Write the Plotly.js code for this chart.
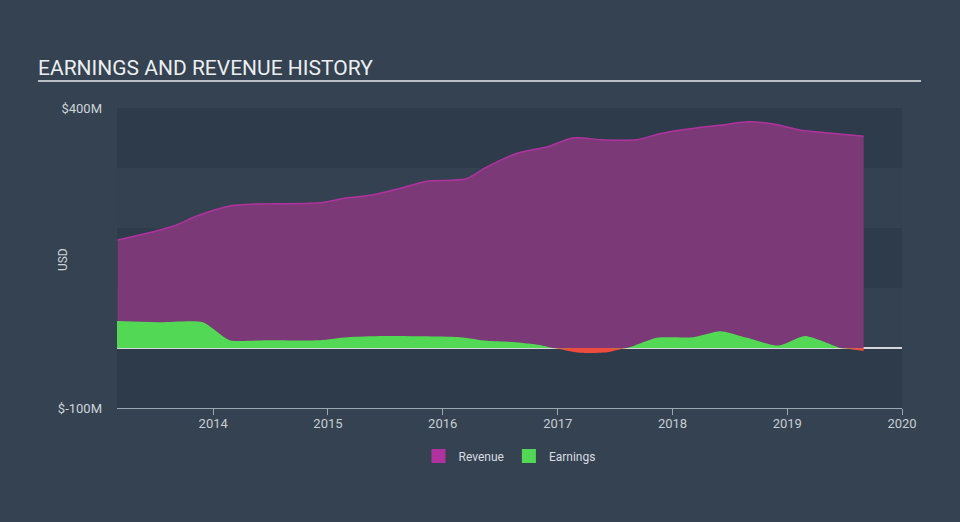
<!DOCTYPE html>
<html>
<head>
<meta charset="utf-8">
<script src="https://cdn.plot.ly/plotly-3.0.1.min.js"></script>
<style>
html,body{margin:0;padding:0;background:#344251;}
#chart{width:960px;height:522px;}
</style>
</head>
<body>
<div id="chart"></div>
<script>
// Revenue (USD millions)
const revenueDates = ["2013-03-03","2013-08-26","2013-11-10","2014-02-27","2014-05-20","2014-12-06","2015-02-27","2015-05-21","2015-08-11","2015-11-11","2016-03-15","2016-05-21","2016-08-28","2016-11-27","2017-02-19","2017-05-22","2017-09-07","2017-11-28","2018-04-02","2018-06-27","2018-08-29","2018-11-23","2019-02-14","2019-05-23","2019-09-01"];
const revenueValues = [180,203,220,237,240,242,250,255,265,278,282,302,325,335,350,347,347,358,368,373,377,373,363,358,353];

// Earnings (USD millions)
const earningsDates = ["2013-03-01","2013-07-16","2013-11-29","2014-02-23","2014-06-21","2014-12-06","2015-03-03","2015-06-25","2016-02-25","2016-05-21","2016-08-12","2016-11-05","2016-12-16","2017-03-13","2017-06-07","2017-08-09","2017-11-12","2018-03-08","2018-06-02","2018-08-26","2018-12-05","2019-02-26","2019-06-08","2019-06-18","2019-09-01"];
const earningsValues = [45,43,43,13,13,13,18,20,18,12,10,5,0,-8,-7,0,17,18,28,17,4,20,2,0,-5];

// Axis ticks
const yTickVals = [400,-100];
const yTickText = ["$400M","$-100M"];
const xTickVals = ["2014-01-01","2015-01-01","2016-01-01","2017-01-01","2018-01-01","2019-01-01","2020-01-01"];
const xTickText = ["2014","2015","2016","2017","2018","2019","2020"];
const bandRanges = [[300,400],[100,200],[-100,0]];

const revenueColor = "#b1329f";
const earningsColor = "#52d854";
const lossColor = "#ef4b3f";

const earnPos = earningsValues.map(v => Math.max(v,0));
const earnNeg = earningsValues.map(v => Math.min(v,0));

const traces = [
  {
    x: revenueDates, y: revenueValues, name: "Revenue", type: "scatter", mode: "lines",
    line: {color: revenueColor, width: 1.5, shape: "spline", smoothing: 0.8},
    fill: "tozeroy", fillcolor: "#7b3a77", hoverinfo: "skip", showlegend: false
  },
  {
    x: earningsDates, y: earnNeg, name: "Loss", type: "scatter", mode: "lines",
    line: {color: lossColor, width: 0, shape: "spline", smoothing: 0.6},
    fill: "tozeroy", fillcolor: lossColor, showlegend: false, hoverinfo: "skip"
  },
  {
    x: earningsDates, y: earnPos, name: "Earnings", type: "scatter", mode: "lines",
    line: {color: earningsColor, width: 0, shape: "spline", smoothing: 0.6},
    fill: "tozeroy", fillcolor: earningsColor, hoverinfo: "skip", showlegend: false
  },
  // legend entries
  {x: [null], y: [null], name: "Revenue", type: "scatter", mode: "markers",
   marker: {symbol: "square", size: 14, color: revenueColor}},
  {x: [null], y: [null], name: "Earnings", type: "scatter", mode: "markers",
   marker: {symbol: "square", size: 14, color: earningsColor}}
];

const shapes = bandRanges.map(r => ({
  type: "rect", xref: "paper", yref: "y", x0: 0, x1: 1, y0: r[0], y1: r[1],
  fillcolor: "#2e3b4a", line: {width: 0}, layer: "below"
}));
// title underline
shapes.push({type: "line", xref: "paper", yref: "paper", x0: -0.1006, x1: 1.0242, y0: 1.09, y1: 1.09,
  line: {color: "#b9bfc5", width: 2}});

const layout = {
  width: 960, height: 522,
  paper_bgcolor: "#344251", plot_bgcolor: "#334150",
  margin: {l: 117, r: 58, t: 108, b: 114},
  font: {family: "Roboto, sans-serif", color: "#d0d4d8"},
  title: {text: "EARNINGS AND REVENUE HISTORY", x: 38/960, xanchor: "left",
    yref: "container", y: 1 - 75/522, yanchor: "bottom",
    font: {family: "Roboto, sans-serif", size: 21, color: "#eceef0"}},
  showlegend: true,
  legend: {orientation: "h", x: 0.5, xanchor: "center", y: -0.16, yanchor: "middle",
    font: {size: 12, color: "#d8dce0"}, bgcolor: "rgba(0,0,0,0)", itemwidth: 30},
  xaxis: {
    type: "date", range: ["2013-03-01","2020-01-01"],
    tickvals: xTickVals, ticktext: xTickText,
    showgrid: false, zeroline: false, showline: true, linecolor: "#9aa6b2", linewidth: 1,
    ticks: "outside", ticklen: 6, tickcolor: "#9aa6b2", ticklabelstandoff: -3,
    tickfont: {size: 13, color: "#c8cdd2", family: "Roboto, sans-serif"},
    fixedrange: true
  },
  yaxis: {
    range: [-100, 400], tickvals: yTickVals, ticktext: yTickText,
    showgrid: false, zeroline: true, zerolinecolor: "#d4d8dc", zerolinewidth: 1.5,
    showline: false, ticks: "", ticklabelstandoff: 14,
    tickfont: {size: 13, color: "#d0d4d8"},
    fixedrange: true
  },
  annotations: [{
    text: "USD", xref: "paper", yref: "paper", x: (63-117)/785, y: 0.493,
    textangle: -90, showarrow: false, xanchor: "center", yanchor: "middle",
    font: {size: 12, color: "#d0d4d8"}
  }],
  shapes: shapes
};

Plotly.newPlot("chart", traces, layout, {staticPlot: true, displayModeBar: false});
</script>
</body>
</html>
